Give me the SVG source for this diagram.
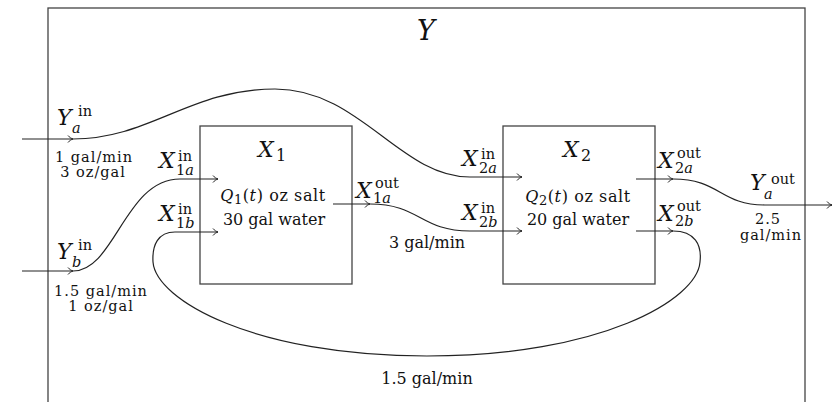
<svg xmlns="http://www.w3.org/2000/svg" width="840" height="402" viewBox="0 0 840 402">
<defs>
<marker id="arr" markerUnits="userSpaceOnUse" orient="auto" overflow="visible" markerWidth="10" markerHeight="10">
<path d="M-5,-3.5 C-3.5,-1.5 -1.5,-0.5 0,0 C-1.5,0.5 -3.5,1.5 -5,3.5" fill="none" stroke="#222" stroke-width="1"/>
</marker>
</defs>
<style>
.box{fill:none;stroke:#444;stroke-width:1.3}
.c{fill:none;stroke:#222;stroke-width:1.2}
.a{marker-end:url(#arr)}
text{font-family:"DejaVu Serif","Liberation Serif",serif;fill:#111}
.t{font-size:16px;text-anchor:middle}
.t2{font-size:14.5px;text-anchor:middle;letter-spacing:1px}
.m{font-style:italic;font-size:22px}
.s{font-size:14.5px}
.si{font-size:14.5px;font-style:italic}
</style>
<g id="Y">
<rect class="box" x="48" y="8" width="757" height="395"/>
<text x="426" y="40" style="font-style:italic;font-size:27px;text-anchor:middle">Y</text>
</g>
<g id="X1">
<rect class="box" x="200" y="126" width="152" height="158"/>
<text class="m" x="258" y="157">X</text><text x="276" y="161" style="font-size:16px">1</text>
<text class="t" x="273" y="201" style="letter-spacing:0.6px"><tspan font-style="italic">Q</tspan><tspan font-size="13" dy="3">1</tspan><tspan dy="-3">(</tspan><tspan font-style="italic">t</tspan>) oz salt</text>
<text class="t" x="274" y="225">30 gal water</text>
</g>
<g id="X2">
<rect class="box" x="503" y="126" width="152" height="158"/>
<text class="m" x="563" y="157">X</text><text x="581" y="161" style="font-size:16px">2</text>
<text class="t" x="578" y="202" style="letter-spacing:0.6px"><tspan font-style="italic">Q</tspan><tspan font-size="13" dy="3">2</tspan><tspan dy="-3">(</tspan><tspan font-style="italic">t</tspan>) oz salt</text>
<text class="t" x="578" y="225">20 gal water</text>
</g>
<g id="connectors">
<path class="c a" d="M22,139 H73"/>
<path class="c a" d="M73,139 C150,139 190,89 275,89 C360,89 400,177 470,177 H522"/>
<path class="c a" d="M22,271 H73"/>
<path class="c a" d="M73,271 C115,271 125,179 180,179 H218"/>
<path class="c a" d="M333,204 H370"/>
<path class="c a" d="M370,204 C420,204 420,231 470,231 H522"/>
<path class="c a" d="M636,179 H673"/>
<path class="c a" d="M673,179 C720,179 720,205 765,205 H832"/>
<path class="c a" d="M636,231 H673"/>
<path class="c a" d="M673,231 C695,231 702,245 700,262 C697,300 600,356 427,356 C254,356 156,300 153,262 C152,245 158,232 175,232 H218"/>
</g>
<g id="labels">
<text class="m" x="57" y="125">Y</text><text class="s" x="78" y="116">in</text><text class="si" x="72" y="133">a</text>
<text class="t2" x="94" y="162">1 gal/min</text>
<text class="t2" x="93" y="177">3 oz/gal</text>
<text class="m" x="57" y="259">Y</text><text class="s" x="78" y="250">in</text><text class="si" x="72" y="267">b</text>
<text class="t2" x="101" y="296">1.5 gal/min</text>
<text class="t2" x="101" y="311">1 oz/gal</text>
<text class="m" x="159" y="168">X</text><text class="s" x="178" y="161">in</text><text class="s" x="176" y="175">1<tspan font-style="italic">a</tspan></text>
<text class="m" x="159" y="221">X</text><text class="s" x="178" y="214">in</text><text class="s" x="176" y="228">1<tspan font-style="italic">b</tspan></text>
<text class="m" x="356" y="198">X</text><text class="s" x="375" y="188">out</text><text class="s" x="373" y="203">1<tspan font-style="italic">a</tspan></text>
<text class="m" x="462" y="166">X</text><text class="s" x="481" y="159">in</text><text class="s" x="479" y="173">2<tspan font-style="italic">a</tspan></text>
<text class="m" x="462" y="220">X</text><text class="s" x="481" y="213">in</text><text class="s" x="479" y="227">2<tspan font-style="italic">b</tspan></text>
<text class="t" x="427" y="248">3 gal/min</text>
<text class="m" x="658" y="168">X</text><text class="s" x="677" y="158">out</text><text class="s" x="675" y="173">2<tspan font-style="italic">a</tspan></text>
<text class="m" x="658" y="221">X</text><text class="s" x="677" y="211">out</text><text class="s" x="675" y="226">2<tspan font-style="italic">b</tspan></text>
<text class="m" x="750" y="190">Y</text><text class="s" x="771" y="184">out</text><text class="si" x="764" y="199">a</text>
<text class="t2" x="768" y="224">2.5</text>
<text class="t2" x="771" y="240">gal/min</text>
<text class="t" x="427" y="384">1.5 gal/min</text>
</g>
</svg>
